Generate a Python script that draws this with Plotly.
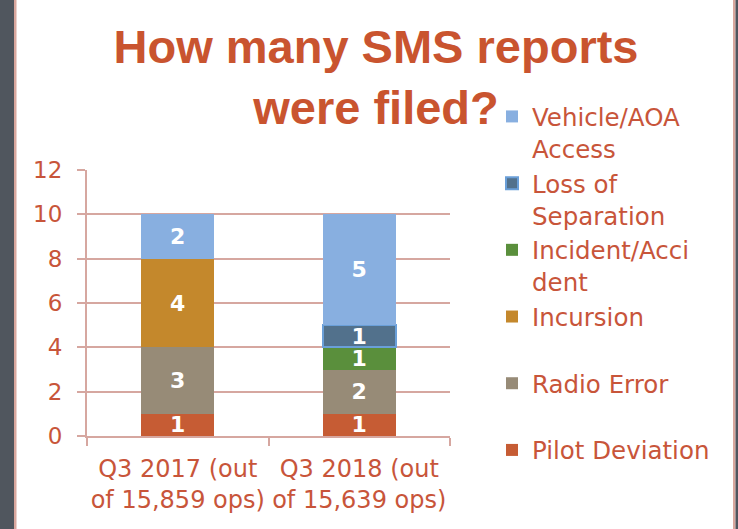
import plotly.graph_objects as go

categories = ["Q3 2017 (out<br>of 15,859 ops)", "Q3 2018 (out<br>of 15,639 ops)"]
series_names = ["Pilot Deviation", "Radio Error", "Incursion", "Incident/Acci<br>dent",
                "Loss of<br>Separation", "Vehicle/AOA<br>Access"]
pilot_deviation = [1, 1]
radio_error = [3, 2]
incursion = [4, 0]
incident_accident = [0, 1]
loss_of_separation = [0, 1]
vehicle_aoa_access = [2, 5]
y_ticks = [0, 2, 4, 6, 8, 10, 12]

series_values = [pilot_deviation, radio_error, incursion, incident_accident,
                 loss_of_separation, vehicle_aoa_access]
colors = ["#c65c34", "#978b77", "#c4882c", "#5a8f3c", "#52718c", "#88afe0"]
line_colors = [None, None, None, None, "#6a9fd8", None]

TXT = "#c8553a"
GRID = "#d6a7a0"

W, H = 738, 529
L, R, T, B = 87, 288, 170, 93
PW = W - L - R
PH = H - T - B

def px_x(p):
    return (p - L) / PW

def px_y(p):
    return (H - B - p) / PH

fig = go.Figure()
for name, vals, col, lc in zip(series_names, series_values, colors, line_colors):
    legend_name = name if "<br>" in name else name + "<br> "
    fig.add_trace(go.Bar(
        x=categories,
        y=[v if v else None for v in vals],
        name=legend_name,
        marker=dict(color=col,
                    line=dict(color=lc if lc else col, width=2 if lc else 0)),
        text=[str(v) if v else "" for v in vals],
        textposition="inside",
        insidetextanchor="middle",
        constraintext="none",
        textangle=0,
        textfont=dict(family="DejaVu Sans", size=22, color="white", weight="bold"),
        width=0.4,
    ))

fig.update_layout(
    width=W, height=H,
    barmode="stack",
    paper_bgcolor="white",
    plot_bgcolor="white",
    margin=dict(l=L, r=R, t=T, b=B, autoexpand=False),
    title=dict(
        text="How many SMS reports<br>were filed?",
        font=dict(family="Liberation Sans", size=47, color="#c9542f", weight="bold"),
        x=376 / W, xanchor="center", xref="container",
        y=1 - 63 / H, yanchor="top", yref="container",
    ),
    legend=dict(
        x=px_x(492), xanchor="left",
        y=1 - 94 / H, yanchor="top", yref="container",
        traceorder="reversed",
        valign="top",
        font=dict(family="DejaVu Sans", size=24.5, color=TXT),
        bgcolor="rgba(0,0,0,0)",
    ),
    showlegend=True,
    xaxis=dict(
        type="category",
        range=[-0.5, 1.5],
        showgrid=False,
        showline=True, linecolor=GRID, linewidth=2,
        ticks="outside", ticklen=8, tickcolor=GRID, tickwidth=2,
        tickson="boundaries",
        tickangle=0,
        tickfont=dict(family="DejaVu Sans", size=24, color=TXT),
        ticklabelstandoff=10,
    ),
    yaxis=dict(
        range=[0, 12],
        tickvals=y_ticks,
        showgrid=True, gridcolor=GRID, gridwidth=2,
        showline=True, linecolor=GRID, linewidth=2,
        ticks="outside", ticklen=8, tickcolor=GRID, tickwidth=2,
        tickfont=dict(family="DejaVu Sans", size=23, color=TXT),
        ticklabelstandoff=10,
        zeroline=False,
    ),
    shapes=[
        dict(type="rect", xref="paper", yref="paper", x0=px_x(0), x1=px_x(14),
             y0=px_y(H + 2), y1=px_y(-2), fillcolor="#50565e", line=dict(width=0), layer="above"),
        dict(type="rect", xref="paper", yref="paper", x0=px_x(14), x1=px_x(16.5),
             y0=px_y(H + 2), y1=px_y(-2), fillcolor="#d9a79e", line=dict(width=0), layer="above"),
        dict(type="rect", xref="paper", yref="paper", x0=px_x(733), x1=px_x(735.5),
             y0=px_y(H + 2), y1=px_y(-2), fillcolor="#d9a79e", line=dict(width=0), layer="above"),
        dict(type="rect", xref="paper", yref="paper", x0=px_x(735.5), x1=px_x(W + 2),
             y0=px_y(H + 2), y1=px_y(-2), fillcolor="#50565e", line=dict(width=0), layer="above"),
    ],
)

try:
    fig.update_layout(legend_maxheight=1)
except Exception:
    pass

fig.write_html("out.html",
               config={"displayModeBar": False},
               post_script="document.body.style.margin='0';document.body.style.padding='0';")
